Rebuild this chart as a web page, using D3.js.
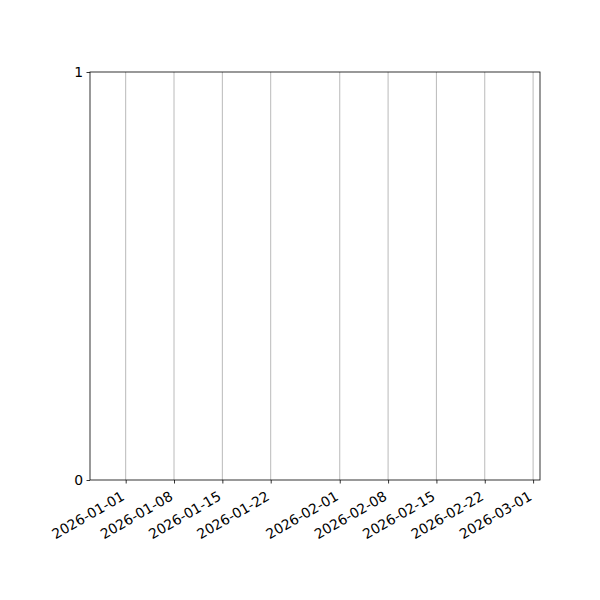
<!DOCTYPE html>
<html>
<head>
<meta charset="utf-8">
<script src="https://cdn.jsdelivr.net/npm/d3@7"></script>
<style>
  body { margin: 0; background: #fff; }
  svg text { font-family: "DejaVu Sans", sans-serif; }
</style>
</head>
<body>
<svg id="chart" width="600" height="600"></svg>
<script>
// empty chart: only axes and ticks
var tickDates = ["2026-01-01", "2026-01-08", "2026-01-15", "2026-01-22",
  "2026-02-01", "2026-02-08", "2026-02-15", "2026-02-22", "2026-03-01"];
var xRange = ["2025-12-26T20:00:00Z", "2026-03-02T00:00:00Z"];
var yTicks = [0, 1];

var margin = { left: 90, right: 60, top: 72, bottom: 120 };
var width = 600, height = 600;
var svg = d3.select("#chart");

var x = d3.scaleUtc()
  .domain(xRange.map(function (d) { return new Date(d); }))
  .range([margin.left, width - margin.right]);
var y = d3.scaleLinear()
  .domain([0, 1])
  .range([height - margin.bottom, margin.top]);

var parse = d3.utcParse("%Y-%m-%d");
var ticks = tickDates.map(parse);

// vertical grid
svg.append("g")
  .selectAll("line")
  .data(ticks)
  .enter()
  .append("line")
  .attr("x1", function (d) { return x(d); })
  .attr("x2", function (d) { return x(d); })
  .attr("y1", y(0))
  .attr("y2", y(1))
  .attr("stroke", "#a8a8a8")
  .attr("stroke-width", 0.8);

// x axis
var xAxis = svg.append("g")
  .attr("transform", "translate(0," + y(0) + ")")
  .call(d3.axisBottom(x).tickValues(ticks).tickSize(3.5).tickPadding(3.5)
    .tickFormat(d3.utcFormat("%Y-%m-%d")));
xAxis.select(".domain").remove();
xAxis.selectAll("line").attr("stroke", "#000").attr("stroke-width", 0.8);
// labels rotated like autofmt_xdate: box top-right at the tick
xAxis.selectAll("text")
  .attr("font-size", "13.9px")
  .attr("font-family", "DejaVu Sans")
  .attr("fill", "#000")
  .attr("text-anchor", "end")
  .attr("y", 0)
  .attr("dy", "0.76em")
  .attr("transform", "translate(-6,10) rotate(-30)");

// y axis
var yAxis = svg.append("g")
  .attr("transform", "translate(" + margin.left + ",0)")
  .call(d3.axisLeft(y).tickValues(yTicks).tickSize(3.5).tickPadding(3.5)
    .tickFormat(d3.format("d")));
yAxis.select(".domain").remove();
yAxis.selectAll("line").attr("stroke", "#000").attr("stroke-width", 0.8);
yAxis.selectAll("text")
  .attr("font-size", "13.9px")
  .attr("font-family", "DejaVu Sans")
  .attr("fill", "#000");

// frame
svg.append("rect")
  .attr("x", margin.left)
  .attr("y", margin.top)
  .attr("width", width - margin.left - margin.right)
  .attr("height", height - margin.top - margin.bottom)
  .attr("fill", "none")
  .attr("stroke", "#000")
  .attr("stroke-width", 0.8);
</script>
</body>
</html>
